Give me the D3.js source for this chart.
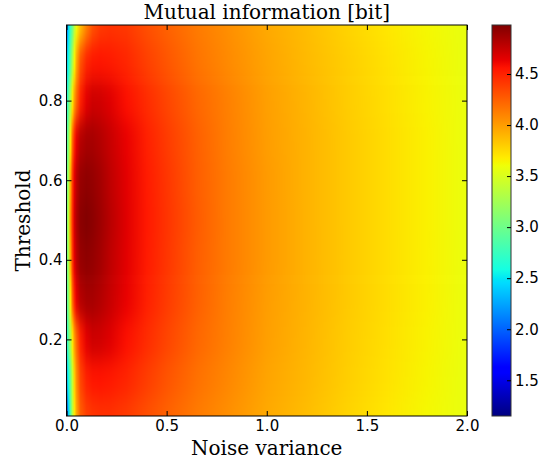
<!DOCTYPE html>
<html>
<head>
<meta charset="utf-8">
<script src="https://cdn.jsdelivr.net/npm/d3@7"></script>
<style>
  body { margin: 0; background: #fff; }
  svg { display: block; }
</style>
</head>
<body>
<div id="chart"></div>
<script>
// columns of the grid (noise variance)
const noiseVariance = [0, 0.01, 0.02, 0.03, 0.04, 0.05, 0.07, 0.1, 0.13, 0.17, 0.22, 0.3, 0.4, 0.5, 0.65, 0.8, 1.0, 1.2, 1.4, 1.6, 1.8, 2.0];
// rows of the grid (threshold)
const thresholds = [0.01, 0.1, 0.2, 0.3, 0.4, 0.5, 0.6, 0.7, 0.8, 0.9, 0.99];
// mutual information [bit], one row per threshold
const mutualInfo = [
  [1.3, 2.4, 2.9, 3.35, 3.7, 3.95, 4.25, 4.38, 4.42, 4.44, 4.44, 4.4, 4.32, 4.24, 4.14, 4.06, 3.95, 3.87, 3.78, 3.7, 3.63, 3.57],
  [2.2, 2.6, 3.0, 3.4, 3.8, 4.05, 4.35, 4.5, 4.55, 4.56, 4.54, 4.49, 4.39, 4.3, 4.18, 4.09, 3.97, 3.89, 3.8, 3.72, 3.64, 3.57],
  [2.55, 2.95, 3.3, 3.7, 4.0, 4.2, 4.5, 4.65, 4.72, 4.71, 4.66, 4.57, 4.46, 4.36, 4.22, 4.12, 3.99, 3.9, 3.81, 3.73, 3.65, 3.58],
  [2.75, 3.15, 3.7, 4.2, 4.5, 4.65, 4.8, 4.85, 4.85, 4.81, 4.74, 4.63, 4.51, 4.4, 4.25, 4.13, 4.0, 3.91, 3.82, 3.74, 3.66, 3.58],
  [2.85, 3.3, 3.95, 4.4, 4.65, 4.78, 4.9, 4.93, 4.91, 4.86, 4.77, 4.65, 4.53, 4.42, 4.26, 4.14, 4.01, 3.91, 3.82, 3.74, 3.66, 3.58],
  [2.9, 3.4, 4.05, 4.45, 4.7, 4.82, 4.94, 4.97, 4.94, 4.88, 4.79, 4.66, 4.54, 4.43, 4.27, 4.14, 4.01, 3.91, 3.82, 3.74, 3.66, 3.58],
  [2.85, 3.3, 3.95, 4.4, 4.65, 4.78, 4.9, 4.93, 4.91, 4.86, 4.77, 4.65, 4.53, 4.42, 4.26, 4.14, 4.01, 3.91, 3.82, 3.74, 3.66, 3.58],
  [2.75, 3.15, 3.7, 4.2, 4.5, 4.65, 4.8, 4.85, 4.85, 4.81, 4.74, 4.63, 4.51, 4.4, 4.25, 4.13, 4.0, 3.91, 3.82, 3.74, 3.66, 3.58],
  [2.55, 2.95, 3.3, 3.7, 4.0, 4.2, 4.5, 4.65, 4.72, 4.71, 4.66, 4.57, 4.46, 4.36, 4.22, 4.12, 3.99, 3.9, 3.81, 3.73, 3.65, 3.58],
  [2.3, 2.6, 2.95, 3.3, 3.65, 3.95, 4.3, 4.48, 4.54, 4.55, 4.53, 4.48, 4.38, 4.29, 4.17, 4.08, 3.97, 3.88, 3.8, 3.72, 3.64, 3.57],
  [1.9, 2.45, 2.75, 3.0, 3.35, 3.6, 3.85, 4.1, 4.3, 4.4, 4.43, 4.41, 4.32, 4.24, 4.14, 4.06, 3.95, 3.87, 3.78, 3.7, 3.63, 3.57]
];

const xTicks = [0, 0.5, 1.0, 1.5, 2.0];
const yTicks = [0.2, 0.4, 0.6, 0.8];
const cbarTicks = [1.5, 2.0, 2.5, 3.0, 3.5, 4.0, 4.5];
const cbarRange = [1.15, 4.98];

const ctx = {
  WIDTH: 549,
  HEIGHT: 459,
  left: 66.5, right: 467, top: 25, bottom: 416,
  cbLeft: 492, cbRight: 511,
  svg: null, x: null, y: null, color: null
};

// matplotlib "jet" colormap, piecewise linear per channel
const jetR = d3.scaleLinear().domain([0, 0.35, 0.66, 0.89, 1]).range([0, 0, 1, 1, 0.5]).clamp(true);
const jetG = d3.scaleLinear().domain([0, 0.125, 0.375, 0.64, 0.91, 1]).range([0, 0, 1, 1, 0, 0]).clamp(true);
const jetB = d3.scaleLinear().domain([0, 0.11, 0.34, 0.65, 1]).range([0.5, 1, 1, 0, 0]).clamp(true);
const jetStops = [0, 0.11, 0.125, 0.34, 0.35, 0.375, 0.64, 0.65, 0.66, 0.89, 0.91, 1];
function jet(t) {
  return d3.rgb(jetR(t) * 255, jetG(t) * 255, jetB(t) * 255).formatHex();
}

function createViz() {
  ctx.svg = d3.select("#chart").append("svg")
    .attr("width", ctx.WIDTH)
    .attr("height", ctx.HEIGHT);

  ctx.x = d3.scaleLinear().domain([0, 2]).range([ctx.left, ctx.right]);
  ctx.y = d3.scaleLinear().domain([0.0075, 0.99]).range([ctx.bottom, ctx.top]);
  ctx.color = d3.scaleSequential(jet).domain(cbarRange);

  drawHeatmap();
  drawAxes();
  drawColorbar();
  drawLabels();
}

function drawHeatmap() {
  const defs = ctx.svg.append("defs");

  defs.append("clipPath").attr("id", "plot-clip")
    .append("rect")
    .attr("x", ctx.left).attr("y", ctx.top)
    .attr("width", ctx.right - ctx.left).attr("height", ctx.bottom - ctx.top);

  // soften the seams between rows (vertical only)
  defs.append("filter").attr("id", "vblur")
    .attr("filterUnits", "userSpaceOnUse")
    .attr("x", 0).attr("y", -60).attr("width", ctx.WIDTH).attr("height", ctx.HEIGHT + 120)
    .attr("color-interpolation-filters", "sRGB")
    .append("feGaussianBlur").attr("stdDeviation", "0 11");

  const x0 = ctx.x(0), x1 = ctx.x(2);

  mutualInfo.forEach((row, j) => {
    const grad = defs.append("linearGradient")
      .attr("id", "row-" + j)
      .attr("gradientUnits", "userSpaceOnUse")
      .attr("x1", x0).attr("x2", x1).attr("y1", 0).attr("y2", 0);
    grad.selectAll("stop")
      .data(row)
      .join("stop")
      .attr("offset", (d, i) => (ctx.x(noiseVariance[i]) - x0) / (x1 - x0))
      .attr("stop-color", d => ctx.color(d));
  });

  const g = ctx.svg.append("g").attr("clip-path", "url(#plot-clip)")
    .append("g").attr("filter", "url(#vblur)");

  const n = thresholds.length;
  g.selectAll("rect")
    .data(thresholds)
    .join("rect")
    .attr("x", x0)
    .attr("width", x1 - x0)
    .attr("y", (d, j) => j === n - 1 ? ctx.top - 50 : ctx.y((d + thresholds[j + 1]) / 2) - 0.5)
    .attr("height", (d, j) => {
      const yBot = j === 0 ? ctx.bottom + 50 : ctx.y((d + thresholds[j - 1]) / 2);
      const yTop = j === n - 1 ? ctx.top - 50 : ctx.y((d + thresholds[j + 1]) / 2) - 0.5;
      return yBot - yTop;
    })
    .attr("fill", (d, j) => "url(#row-" + j + ")");
}

function styleAxis(sel) {
  sel.select(".domain").remove();
  sel.selectAll(".tick line").attr("stroke", "#000").attr("stroke-width", 1);
  sel.selectAll(".tick text")
    .attr("fill", "#000")
    .style("font-family", "'DejaVu Sans', sans-serif")
    .style("font-size", "15px");
}

function drawAxes() {
  const h = ctx.bottom - ctx.top;

  ctx.svg.append("g")
    .attr("transform", `translate(0,${ctx.bottom})`)
    .call(d3.axisBottom(ctx.x).tickValues(xTicks).tickFormat(d3.format(".1f")).tickSize(-5).tickSizeOuter(0).tickPadding(4))
    .call(styleAxis);

  ctx.svg.append("g")
    .attr("transform", `translate(0,${ctx.top})`)
    .call(d3.axisTop(ctx.x).tickValues(xTicks).tickFormat("").tickSize(-5).tickSizeOuter(0))
    .call(styleAxis);

  ctx.svg.append("g")
    .attr("transform", `translate(${ctx.left},0)`)
    .call(d3.axisLeft(ctx.y).tickValues(yTicks).tickFormat(d3.format(".1f")).tickSize(-5).tickSizeOuter(0).tickPadding(4))
    .call(styleAxis);

  ctx.svg.append("g")
    .attr("transform", `translate(${ctx.right},0)`)
    .call(d3.axisRight(ctx.y).tickValues(yTicks).tickFormat("").tickSize(-5).tickSizeOuter(0))
    .call(styleAxis);

  // frame
  ctx.svg.append("rect")
    .attr("x", ctx.left).attr("y", ctx.top)
    .attr("width", ctx.right - ctx.left).attr("height", h)
    .attr("fill", "none")
    .attr("stroke", "#000")
    .attr("stroke-width", 1);
}

function drawColorbar() {
  const cb = d3.scaleLinear().domain(cbarRange).range([ctx.bottom, ctx.top]);

  const grad = ctx.svg.select("defs").append("linearGradient")
    .attr("id", "cbar-grad")
    .attr("x1", 0).attr("x2", 0).attr("y1", 1).attr("y2", 0);
  grad.selectAll("stop")
    .data(jetStops)
    .join("stop")
    .attr("offset", d => d)
    .attr("stop-color", d => jet(d));

  ctx.svg.append("rect")
    .attr("x", ctx.cbLeft).attr("y", ctx.top)
    .attr("width", ctx.cbRight - ctx.cbLeft).attr("height", ctx.bottom - ctx.top)
    .attr("fill", "url(#cbar-grad)")
    .attr("stroke", "#333")
    .attr("stroke-width", 1);

  ctx.svg.append("g")
    .attr("transform", `translate(${ctx.cbRight},0)`)
    .call(d3.axisRight(cb).tickValues(cbarTicks).tickFormat(d3.format(".1f")).tickSize(-4).tickSizeOuter(0).tickPadding(4))
    .call(styleAxis);
}

function drawLabels() {
  const serif = "'DejaVu Serif', serif";
  const cx = (ctx.left + ctx.right) / 2;

  ctx.svg.append("text")
    .attr("x", cx).attr("y", 19)
    .attr("text-anchor", "middle")
    .style("font-family", serif).style("font-size", "20px")
    .text("Mutual information [bit]");

  ctx.svg.append("text")
    .attr("x", cx).attr("y", 455)
    .attr("text-anchor", "middle")
    .style("font-family", serif).style("font-size", "20px")
    .text("Noise variance");

  ctx.svg.append("text")
    .attr("transform", `translate(30,${(ctx.top + ctx.bottom) / 2}) rotate(-90)`)
    .attr("text-anchor", "middle")
    .style("font-family", serif).style("font-size", "20px")
    .text("Threshold");
}

createViz();
</script>
</body>
</html>
